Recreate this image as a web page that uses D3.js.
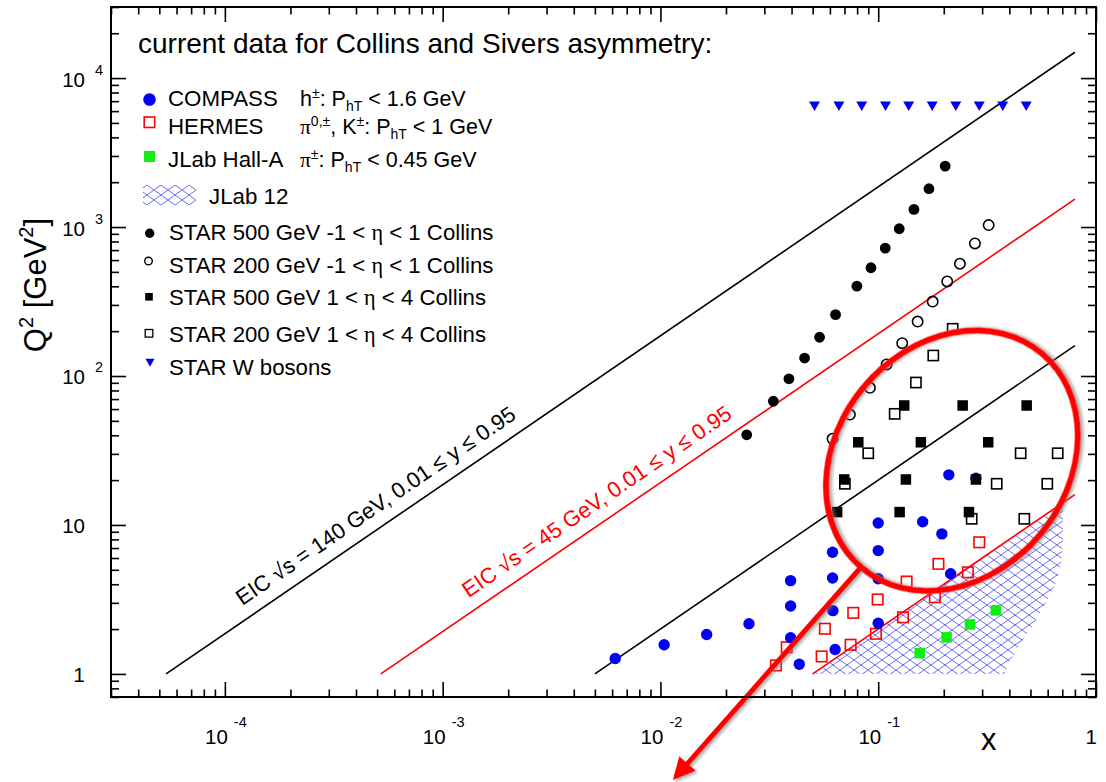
<!DOCTYPE html>
<html><head><meta charset="utf-8">
<script src="https://cdn.jsdelivr.net/npm/d3@7"></script>
<style>
body{margin:0;background:#fff}
svg{display:block}
text{font-family:"Liberation Sans",Arial,Helvetica,sans-serif;fill:#000}
</style></head>
<body><svg id="c" width="1106" height="782"></svg>
<script>
// ---------------- data (x, Q^2) ----------------
const compassX  = [0.0062,0.0104,0.0163,0.0255,0.0396,0.0396,0.0396,0.0434,0.0617,0.0617,0.0619,0.0634,0.100,0.100,0.100,0.100,0.160,0.196,0.211,0.215,0.281];
const compassQ2 = [1.27,1.57,1.84,2.17,4.23,2.86,1.75,1.16,6.56,4.41,2.66,1.46,10.3,6.73,4.35,2.19,10.5,8.71,21.7,4.70,20.6];
const hermesX   = [0.291,0.189,0.258,0.135,0.0994,0.182,0.0768,0.130,0.0569,0.0976,0.0380,0.0747,0.0550,0.0339];
const hermesQ2  = [7.65,5.48,4.81,4.17,3.16,3.27,2.57,2.40,2.01,1.86,1.51,1.57,1.31,1.14];
const jlabX     = [0.155,0.206,0.264,0.347];
const jlabQ2    = [1.38,1.76,2.15,2.67];
const star500MidX  = [0.0249,0.0330,0.0389,0.0459,0.0538,0.0637,0.0798,0.0926,0.1077,0.1249,0.1459,0.1710,0.203];
const star500MidQ2 = [40.3,67.7,95.8,132,182,258,401,533,722,974,1313,1808,2566];
const star200MidX  = [0.0617,0.0741,0.0916,0.1093,0.1289,0.1517,0.1778,0.2075,0.2372,0.278,0.3215];
const star200MidQ2 = [37.9,55.1,83.3,119.5,166,232,316,431,567,776,1030];
const star500FwdX  = [0.1316,0.2442,0.4805,0.0810,0.157,0.320,0.0698,0.134,0.281,0.0648,0.1254,0.261];
const star500FwdQ2 = [63.4,63.4,63.4,35.9,35.9,35.9,20.2,20.2,20.2,12.2,12.2,12.2];
const star200FwdX  = [0.2197,0.179,0.149,0.119,0.090,0.0703,0.4508,0.667,0.350,0.5975,0.2686,0.4686];
const star200FwdQ2 = [207.5,137.3,90.4,55.7,30.3,18.9,30.3,30.3,18.9,18.9,11.0,11.0];
const starWX  = [0.051,0.066,0.084,0.108,0.138,0.177,0.227,0.291,0.373,0.478];
const starWQ2 = [6460,6460,6460,6460,6460,6460,6460,6460,6460,6460];
// JLab 12 coverage polygon
const jlab12X  = [0.05,0.705,0.705,0.69,0.65,0.59,0.52,0.45,0.40,0.38];
const jlab12Q2 = [1,14.1,7.5,5.5,4.0,3.0,2.2,1.6,1.2,1];
// kinematic limit lines (start/end)
const limitX  = [[5.37e-5,0.8],[5.2e-4,0.8],[5.0e-3,0.8],[0.05,0.8]];
const limitQ2 = [[1,14900],[1,1539],[1,160],[1,16]];
const limitColor = ["#000","#f00","#000","#f00"];
const limitLabels = ["EIC \u221As = 140 GeV, 0.01 \u2264 y \u2264 0.95","EIC \u221As = 45 GeV, 0.01 \u2264 y \u2264 0.95"];
const limitLabelX = [1.3e-4,1.42e-3];
// axis ticks
const xTickValues = [1e-4,1e-3,1e-2,1e-1,1];
const xTickBase   = ["10","10","10","10","1"];
const xTickExp    = ["-4","-3","-2","-1",""];
const yTickValues = [1,10,100,1000,10000];
const yTickBase   = ["1","10","10","10","10"];
const yTickExp    = ["","","2","3","4"];
// annotation (data coordinates)
const ringCenter = [0.218,27];
const arrowFrom = [0.0824,5.1];
const arrowTo   = [0.01177,0.204];

// ---------------- setup ----------------
const svg = d3.select("#c");
const L=111,R=1096,T=7,B=697;
const x = d3.scaleLog().domain([3e-5,1]).range([L,R]);
const y = d3.scaleLog().domain([0.7,3e4]).range([B,T]);
const defs = svg.append("defs");
defs.append("clipPath").attr("id","plot").append("rect").attr("x",L).attr("y",T).attr("width",R-L).attr("height",B-T);
const pat = defs.append("pattern").attr("id","hatch").attr("patternUnits","userSpaceOnUse").attr("width",14).attr("height",10);
pat.append("path").attr("d","M0,0L14,10M0,10L14,0M-14,0L0,10M14,0L28,10M-14,10L0,0M14,10L28,0").attr("stroke","#5b5bf2").attr("stroke-width",0.9).attr("fill","none");
const sh = defs.append("filter").attr("id","shadow").attr("x","-20%").attr("y","-20%").attr("width","140%").attr("height","140%");
sh.append("feDropShadow").attr("dx",2).attr("dy",2).attr("stdDeviation",1.5).attr("flood-color","#777").attr("flood-opacity",0.6);
defs.append("marker").attr("id","head").attr("viewBox","0 0 10 10").attr("refX",8).attr("refY",5)
  .attr("markerWidth",5).attr("markerHeight",4.4).attr("markerUnits","strokeWidth").attr("orient","auto")
  .append("path").attr("d","M0,0L10,5L0,10z").attr("fill","#f00");

const plot = svg.append("g").attr("clip-path","url(#plot)");

// JLab 12 hatch
plot.append("path").datum(d3.zip(jlab12X,jlab12Q2))
  .attr("d",d3.line().x(d=>x(d[0])).y(d=>y(d[1])).curve(d3.curveLinearClosed))
  .attr("fill","url(#hatch)").attr("stroke","none");

// limit lines
limitX.forEach((lx,i)=>{
  plot.append("path").datum(d3.zip(lx,limitQ2[i]))
    .attr("d",d3.line().x(d=>x(d[0])).y(d=>y(d[1])))
    .attr("stroke",limitColor[i]).attr("stroke-width",1.6).attr("fill","none");
});
// labels along lines
limitLabels.forEach((t,i)=>{
  const x0=x(limitX[i][0]),y0=y(limitQ2[i][0]),x1=x(limitX[i][1]),y1=y(limitQ2[i][1]);
  const ang=Math.atan2(y1-y0,x1-x0)*180/Math.PI;
  const slope=Math.log10(limitQ2[i][1]/limitQ2[i][0])/Math.log10(limitX[i][1]/limitX[i][0]);
  const q=limitQ2[i][0]*Math.pow(limitLabelX[i]/limitX[i][0],slope);
  svg.append("text").attr("transform",`translate(${x(limitLabelX[i])},${y(q)}) rotate(${ang})`)
    .attr("dy",-13).attr("font-size",22).style("fill",limitColor[i]).text(t);
});

// markers
const g = svg.append("g");
function circles(xs,qs,r,fill,stroke){
  g.selectAll(null).data(d3.zip(xs,qs)).join("circle")
   .attr("cx",d=>x(d[0])).attr("cy",d=>y(d[1])).attr("r",r)
   .attr("fill",fill).attr("stroke",stroke).attr("stroke-width",stroke==="none"?0:1.6);
}
function squares(xs,qs,s,fill,stroke){
  g.selectAll(null).data(d3.zip(xs,qs)).join("rect")
   .attr("x",d=>x(d[0])-s/2).attr("y",d=>y(d[1])-s/2).attr("width",s).attr("height",s)
   .attr("fill",fill).attr("stroke",stroke).attr("stroke-width",stroke==="none"?0:1.6);
}
const tri = (cx,cy,w,h)=>`M${cx-w/2},${cy-h/2}L${cx+w/2},${cy-h/2}L${cx},${cy+h/2}Z`;
squares(jlabX,jlabQ2,10.5,"#11ee11","none");
squares(hermesX,hermesQ2,10.5,"none","#f00");
circles(compassX,compassQ2,5.7,"#0000f5","none");
circles(star500MidX,star500MidQ2,5.4,"#000","none");
circles(star200MidX,star200MidQ2,5.2,"none","#000");
squares(star500FwdX,star500FwdQ2,10.5,"#000","none");
squares(star200FwdX,star200FwdQ2,10.2,"none","#000");
g.selectAll(null).data(d3.zip(starWX,starWQ2)).join("path")
  .attr("d",d=>tri(x(d[0]),y(d[1]),11,9.5)).attr("fill","#0000f5");

// annotation ring + arrow
svg.append("ellipse").attr("cx",x(ringCenter[0])).attr("cy",y(ringCenter[1])).attr("rx",140).attr("ry",115)
  .attr("transform",`rotate(-50,${x(ringCenter[0])},${y(ringCenter[1])})`)
  .attr("fill","none").attr("stroke","#f00").attr("stroke-width",6).attr("filter","url(#shadow)");
svg.append("line").attr("x1",x(arrowFrom[0])).attr("y1",y(arrowFrom[1])).attr("x2",x(arrowTo[0])).attr("y2",y(arrowTo[1]))
  .attr("stroke","#f00").attr("stroke-width",5).attr("marker-end","url(#head)").attr("filter","url(#shadow)");

// ---------------- axes ----------------
const majX = xTickValues, minX = x.ticks().filter(v=>!majX.some(m=>Math.abs(m-v)/v<1e-6));
const majY = yTickValues, minY = y.ticks().filter(v=>!majY.some(m=>Math.abs(m-v)/v<1e-6));
function ax(gen,vals,size,tr){
  const a=svg.append("g").attr("transform",tr).call(gen.tickValues(vals).tickSize(size).tickFormat(""));
  a.select(".domain").remove();
  a.selectAll("line").attr("stroke","#000").attr("stroke-width",1.6);
}
ax(d3.axisBottom(x),majX,-15,`translate(0,${B})`);
ax(d3.axisBottom(x),minX,-7.5,`translate(0,${B})`);
ax(d3.axisTop(x),majX,-15,`translate(0,${T})`);
ax(d3.axisTop(x),minX,-7.5,`translate(0,${T})`);
ax(d3.axisLeft(y),majY,-15,`translate(${L},0)`);
ax(d3.axisLeft(y),minY,-8,`translate(${L},0)`);
ax(d3.axisRight(y),majY,-15,`translate(${R},0)`);
ax(d3.axisRight(y),minY,-8,`translate(${R},0)`);
svg.append("rect").attr("x",L).attr("y",T).attr("width",R-L).attr("height",B-T).attr("fill","none").attr("stroke","#000").attr("stroke-width",2);

// tick labels
xTickValues.forEach((v,i)=>{
  const px=x(v);
  svg.append("text").attr("x",px+(xTickExp[i]?3:1)).attr("y",744).attr("text-anchor","end").attr("font-size",20.5).text(xTickBase[i]);
  if(xTickExp[i]) svg.append("text").attr("x",px+9).attr("y",727).attr("font-size",14.5).text(xTickExp[i]);
});
yTickValues.forEach((v,i)=>{
  const py=y(v);
  svg.append("text").attr("x",85).attr("y",py+8.5).attr("text-anchor","end").attr("font-size",yTickBase[i]==="1"?21:20.5).text(yTickBase[i]);
  if(yTickExp[i]) svg.append("text").attr("x",95).attr("y",py-3.5).attr("font-size",14.5).text(yTickExp[i]);
});
// axis titles
const yt = svg.append("text").attr("transform","translate(46,285) rotate(-90)").attr("text-anchor","middle").attr("font-size",31);
yt.append("tspan").text("Q");
yt.append("tspan").attr("font-size",20).attr("dy",-13).text("2");
yt.append("tspan").attr("dy",13).text(" [GeV");
yt.append("tspan").attr("font-size",20).attr("dy",-13).text("2");
yt.append("tspan").attr("dy",13).text("]");
svg.append("text").attr("x",981).attr("y",750).attr("font-size",31).text("x");

// ---------------- legend ----------------
svg.append("text").attr("x",138).attr("y",53).attr("font-size",28).text("current data for Collins and Sivers asymmetry:");
const lg = svg.append("g");
function rich(xp,yp,parts,size){
  const t=lg.append("text").attr("x",xp).attr("y",yp).attr("font-size",size);
  let off=0;
  parts.forEach(([s,k])=>{
    const target = k==="sup"?-8:(k==="sub"?5:0);
    const sp=t.append("tspan").attr("dy",target-off).text(s);
    off=target;
    if(k) sp.attr("font-size",14);
    if(/[πη]/.test(s)) sp.style("font-family","'Liberation Serif',serif");
  });
  return t;
}
// row 1-3
lg.append("circle").attr("cx",149.5).attr("cy",99.5).attr("r",6.3).attr("fill","#0000f5");
lg.append("rect").attr("x",144.2).attr("y",117).attr("width",10.5).attr("height",10.5).attr("fill","none").attr("stroke","#f00").attr("stroke-width",1.6);
lg.append("rect").attr("x",144).attr("y",151).attr("width",11).attr("height",11).attr("fill","#11ee11");
lg.append("rect").attr("x",143).attr("y",185).attr("width",53).attr("height",20).attr("fill","url(#hatch)");
rich(168,106,[["COMPASS",""]],22.3);
rich(168,134,[["HERMES",""]],22.3);
rich(168,167,[["JLab Hall-A",""]],22.3);
rich(209,204,[["JLab 12",""]],22.3);
rich(300,106,[["h",""],["\u00b1","sup"],[": P",""],["hT","sub"],[" < 1.6 GeV",""]],21.5);
rich(300,134,[["\u03c0",""],["0,\u00b1","sup"],[", K",""],["\u00b1","sup"],[": P",""],["hT","sub"],[" < 1 GeV",""]],21.5);
rich(300,167,[["\u03c0",""],["\u00b1","sup"],[": P",""],["hT","sub"],[" < 0.45 GeV",""]],21.5);
// STAR rows
lg.append("circle").attr("cx",149.7).attr("cy",233.3).attr("r",4.7).attr("fill","#000");
lg.append("circle").attr("cx",148.5).attr("cy",261).attr("r",3.8).attr("fill","none").attr("stroke","#000").attr("stroke-width",1.4);
lg.append("rect").attr("x",145.2).attr("y",293).attr("width",7.6).attr("height",7.6).attr("fill","#000");
lg.append("rect").attr("x",145.2).attr("y",329.5).attr("width",7.6).attr("height",7.6).attr("fill","none").attr("stroke","#000").attr("stroke-width",1.3);
lg.append("path").attr("d",tri(150,362.7,9,8)).attr("fill","#0000f5");
rich(169,240,[["STAR 500 GeV -1 < ",""],["\u03b7",""],[" < 1 Collins",""]],22.2);
rich(169,273,[["STAR 200 GeV -1 < ",""],["\u03b7",""],[" < 1 Collins",""]],22.2);
rich(169,305,[["STAR 500 GeV 1 < ",""],["\u03b7",""],[" < 4 Collins",""]],22.2);
rich(169,341.5,[["STAR 200 GeV 1 < ",""],["\u03b7",""],[" < 4 Collins",""]],22.2);
rich(169,375,[["STAR W bosons",""]],22.2);
</script></body></html>
